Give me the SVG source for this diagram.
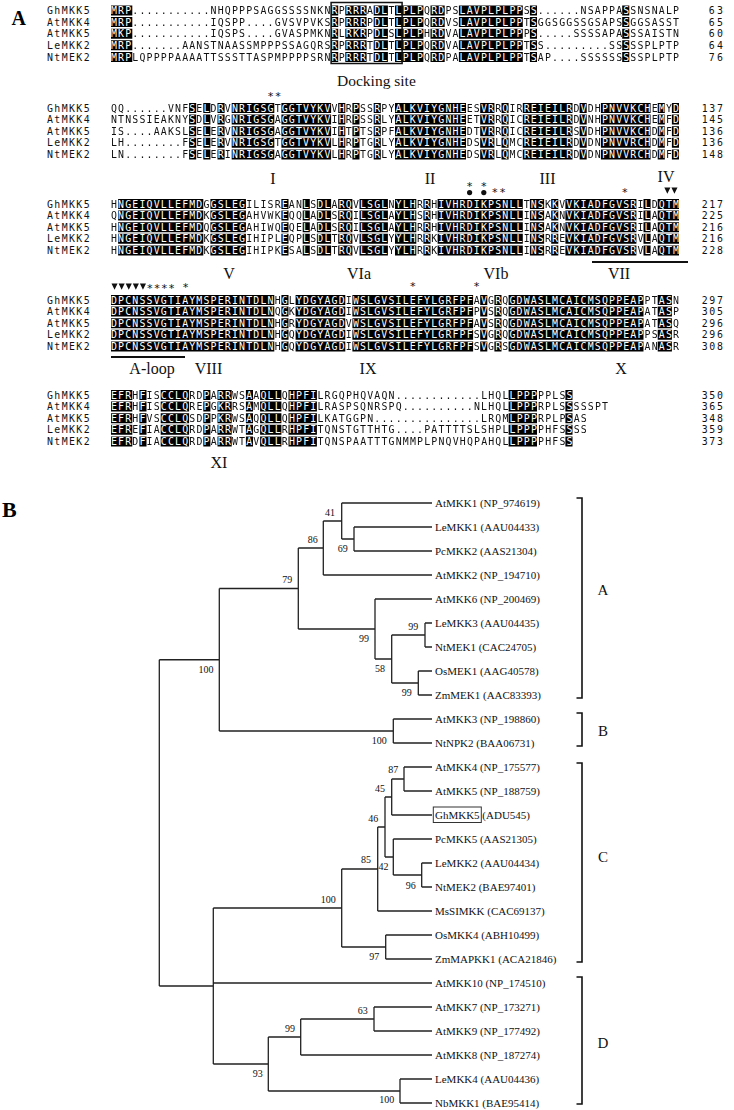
<svg xmlns="http://www.w3.org/2000/svg" width="734" height="1110" viewBox="0 0 734 1110">
<style>
.seq,.nm,.num{font-family:"DejaVu Sans Mono","Liberation Mono",monospace;font-size:9.9px}
.num{text-anchor:end}
.ast{font-family:"DejaVu Sans Mono","Liberation Mono",monospace;font-size:11px;fill:#111}
.rn{font-family:"Liberation Serif","Times New Roman",serif;font-size:16px;text-anchor:middle;fill:#111}
.lbl{font-family:"Liberation Serif","Times New Roman",serif;font-size:15.5px;fill:#111}
.pl{font-family:"Liberation Serif","Times New Roman",serif;font-weight:bold;fill:#000}
.lf{font-family:"Liberation Serif","Times New Roman",serif;font-size:11px;fill:#111}
.bs{font-family:"Liberation Serif","Times New Roman",serif;font-size:10px;text-anchor:middle;fill:#111}
.cl{font-family:"Liberation Serif","Times New Roman",serif;font-size:15px;text-anchor:middle;fill:#111}
.ln{fill:none;stroke:#222;stroke-width:1.3}
.br{fill:none;stroke:#111;stroke-width:1.6}
</style>
<defs>
<path id="k1" d="M0 0h3v10h-3zM31 0h1v10h-1zM33 0h3v10h-3zM37 0h2v10h-2zM40 0h4v10h-4zM45 0h2v10h-2zM49 0h9v10h-9zM59 0h1v10h-1zM72 0h1v10h-1z"/>
<path id="k2" d="M11 0h1v10h-1zM13 0h1v10h-1zM15 0h1v10h-1zM17 0h6v10h-6zM24 0h7v10h-7zM32 0h1v10h-1zM34 0h1v10h-1zM37 0h1v10h-1zM40 0h10v10h-10zM52 0h2v10h-2zM55 0h1v10h-1zM58 0h7v10h-7zM66 0h1v10h-1zM69 0h7v10h-7zM77 0h1v10h-1zM79 0h1v10h-1z"/>
<path id="k3" d="M1 0h12v10h-12zM14 0h5v10h-5zM24 0h1v10h-1zM27 0h1v10h-1zM29 0h2v10h-2zM32 0h2v10h-2zM35 0h4v10h-4zM40 0h3v10h-3zM44 0h1v10h-1zM46 0h12v10h-12zM59 0h2v10h-2zM62 0h1v10h-1zM64 0h10v10h-10zM75 0h1v10h-1zM77 0h3v10h-3z"/>
<path id="k4" d="M0 0h23v10h-23zM24 0h1v10h-1zM26 0h7v10h-7zM34 0h17v10h-17zM52 0h1v10h-1zM54 0h1v10h-1zM56 0h19v10h-19zM77 0h2v10h-2z"/>
<path id="k5" d="M0 0h3v10h-3zM4 0h1v10h-1zM7 0h4v10h-4zM13 0h1v10h-1zM15 0h2v10h-2zM19 0h1v10h-1zM21 0h3v10h-3zM25 0h4v10h-4zM56 0h4v10h-4zM64 0h1v10h-1z"/>
<g id="r1">
<use href="#k1" transform="translate(111 5.5) scale(7.1 1)"/>
<use href="#k1" transform="translate(111 17.1) scale(7.1 1)"/>
<use href="#k1" transform="translate(111 28.7) scale(7.1 1)"/>
<use href="#k1" transform="translate(111 40.3) scale(7.1 1)"/>
<use href="#k1" transform="translate(111 51.9) scale(7.1 1)"/>
</g>
<g id="r2">
<use href="#k2" transform="translate(111 103) scale(7.1 1)"/>
<use href="#k2" transform="translate(111 114.6) scale(7.1 1)"/>
<use href="#k2" transform="translate(111 126.2) scale(7.1 1)"/>
<use href="#k2" transform="translate(111 137.8) scale(7.1 1)"/>
<use href="#k2" transform="translate(111 149.4) scale(7.1 1)"/>
</g>
<g id="r3">
<use href="#k3" transform="translate(111 199) scale(7.1 1)"/>
<use href="#k3" transform="translate(111 210.6) scale(7.1 1)"/>
<use href="#k3" transform="translate(111 222.2) scale(7.1 1)"/>
<use href="#k3" transform="translate(111 233.8) scale(7.1 1)"/>
<use href="#k3" transform="translate(111 245.4) scale(7.1 1)"/>
</g>
<g id="r4">
<use href="#k4" transform="translate(111 295) scale(7.1 1)"/>
<use href="#k4" transform="translate(111 306.6) scale(7.1 1)"/>
<use href="#k4" transform="translate(111 318.2) scale(7.1 1)"/>
<use href="#k4" transform="translate(111 329.8) scale(7.1 1)"/>
<use href="#k4" transform="translate(111 341.4) scale(7.1 1)"/>
</g>
<g id="r5">
<use href="#k5" transform="translate(111 390) scale(7.1 1)"/>
<use href="#k5" transform="translate(111 401.6) scale(7.1 1)"/>
<use href="#k5" transform="translate(111 413.2) scale(7.1 1)"/>
<use href="#k5" transform="translate(111 424.8) scale(7.1 1)"/>
<use href="#k5" transform="translate(111 436.4) scale(7.1 1)"/>
</g>
<clipPath id="c1">
<use href="#k1" transform="translate(111 5.5) scale(7.1 1)"/>
<use href="#k1" transform="translate(111 17.1) scale(7.1 1)"/>
<use href="#k1" transform="translate(111 28.7) scale(7.1 1)"/>
<use href="#k1" transform="translate(111 40.3) scale(7.1 1)"/>
<use href="#k1" transform="translate(111 51.9) scale(7.1 1)"/>
</clipPath>
<clipPath id="c2">
<use href="#k2" transform="translate(111 103) scale(7.1 1)"/>
<use href="#k2" transform="translate(111 114.6) scale(7.1 1)"/>
<use href="#k2" transform="translate(111 126.2) scale(7.1 1)"/>
<use href="#k2" transform="translate(111 137.8) scale(7.1 1)"/>
<use href="#k2" transform="translate(111 149.4) scale(7.1 1)"/>
</clipPath>
<clipPath id="c3">
<use href="#k3" transform="translate(111 199) scale(7.1 1)"/>
<use href="#k3" transform="translate(111 210.6) scale(7.1 1)"/>
<use href="#k3" transform="translate(111 222.2) scale(7.1 1)"/>
<use href="#k3" transform="translate(111 233.8) scale(7.1 1)"/>
<use href="#k3" transform="translate(111 245.4) scale(7.1 1)"/>
</clipPath>
<clipPath id="c4">
<use href="#k4" transform="translate(111 295) scale(7.1 1)"/>
<use href="#k4" transform="translate(111 306.6) scale(7.1 1)"/>
<use href="#k4" transform="translate(111 318.2) scale(7.1 1)"/>
<use href="#k4" transform="translate(111 329.8) scale(7.1 1)"/>
<use href="#k4" transform="translate(111 341.4) scale(7.1 1)"/>
</clipPath>
<clipPath id="c5">
<use href="#k5" transform="translate(111 390) scale(7.1 1)"/>
<use href="#k5" transform="translate(111 401.6) scale(7.1 1)"/>
<use href="#k5" transform="translate(111 413.2) scale(7.1 1)"/>
<use href="#k5" transform="translate(111 424.8) scale(7.1 1)"/>
<use href="#k5" transform="translate(111 436.4) scale(7.1 1)"/>
</clipPath>
<mask id="m1" maskUnits="userSpaceOnUse" x="0" y="0" width="734" height="1110"><rect width="734" height="1110" fill="#fff"/><use href="#r1" fill="#000"/></mask>
<mask id="m2" maskUnits="userSpaceOnUse" x="0" y="0" width="734" height="1110"><rect width="734" height="1110" fill="#fff"/><use href="#r2" fill="#000"/></mask>
<mask id="m3" maskUnits="userSpaceOnUse" x="0" y="0" width="734" height="1110"><rect width="734" height="1110" fill="#fff"/><use href="#r3" fill="#000"/></mask>
<mask id="m4" maskUnits="userSpaceOnUse" x="0" y="0" width="734" height="1110"><rect width="734" height="1110" fill="#fff"/><use href="#r4" fill="#000"/></mask>
<mask id="m5" maskUnits="userSpaceOnUse" x="0" y="0" width="734" height="1110"><rect width="734" height="1110" fill="#fff"/><use href="#r5" fill="#000"/></mask>
</defs>
<rect width="734" height="1110" fill="#fff"/>

<!-- Panel A -->
<text class="pl" x="11.5" y="25" font-size="20">A</text>

<g id="block1">
<use href="#r1" fill="#000"/>
<g fill="#111" mask="url(#m1)"><g id="s1">
<text class="seq" x="111" y="14.1" textLength="568" lengthAdjust="spacing">MRP...........NHQPPPSAGGSSSSNKNRPRRRADLTLPLPQRDPSLAVPLPLPPSS......NSAPPASSNSNALP</text>
<text class="seq" x="111" y="25.7" textLength="568" lengthAdjust="spacing">MRP...........IQSPP....GVSVPVKSRPRRRPDLTLPLPQRDVSLAVPLPLPPTSGGSGGSSGSAPSSGGSASST</text>
<text class="seq" x="111" y="37.3" textLength="568" lengthAdjust="spacing">MKP...........IQSPS....GVASPMKNRLRKRPDLSLPLPHRDVALAVPLPLPPPS.....SSSSAPASSSAISTN</text>
<text class="seq" x="111" y="48.9" textLength="568" lengthAdjust="spacing">MRP.......AANSTNAASSMPPPSSAGQRSRPRRRTDLTLPLPQRDVALAVPLPLPPTSS.........SSSSSPLPTP</text>
<text class="seq" x="111" y="60.5" textLength="568" lengthAdjust="spacing">MRPLQPPPPAAAATTSSSTTASPMPPPPSRNRPRRRTDLTLPLPQRDPALAVPLPLPPTSAP....SSSSSSSSSPLPTP</text>
</g></g>
<use href="#s1" fill="#fff" clip-path="url(#c1)"/>
<g fill="#111">
<text class="nm" x="47" y="14.1" textLength="42.6" lengthAdjust="spacing">GhMKK5</text><text class="num" x="723" y="14.1" textLength="14.2" lengthAdjust="spacing">63</text>
<text class="nm" x="47" y="25.7" textLength="42.6" lengthAdjust="spacing">AtMKK4</text><text class="num" x="723" y="25.7" textLength="14.2" lengthAdjust="spacing">65</text>
<text class="nm" x="47" y="37.3" textLength="42.6" lengthAdjust="spacing">AtMKK5</text><text class="num" x="723" y="37.3" textLength="14.2" lengthAdjust="spacing">60</text>
<text class="nm" x="47" y="48.9" textLength="42.6" lengthAdjust="spacing">LeMKK2</text><text class="num" x="723" y="48.9" textLength="14.2" lengthAdjust="spacing">64</text>
<text class="nm" x="47" y="60.5" textLength="42.6" lengthAdjust="spacing">NtMEK2</text><text class="num" x="723" y="60.5" textLength="14.2" lengthAdjust="spacing">76</text>
</g>
<rect x="331.1" y="2.5" width="71" height="61" fill="none" stroke="#111" stroke-width="1.5"/>
<text class="lbl" x="337" y="86">Docking site</text>
</g>

<g id="block2">
<text class="ast" x="267.2" y="99.5" textLength="14.2" lengthAdjust="spacing">**</text>
<use href="#r2" fill="#000"/>
<g fill="#111" mask="url(#m2)"><g id="s2">
<text class="seq" x="111" y="111.6" textLength="568" lengthAdjust="spacing">QQ......VNFSELDRVNRIGSGTGGTVYKVVHRPSSRPYALKVIYGNHEESVRRQIRREIEILRDVDHPNVVKCHEMYD</text>
<text class="seq" x="111" y="123.2" textLength="568" lengthAdjust="spacing">NTNSSIEAKNYSDLVRGNRIGSGAGGTVYKVIHRPSSRLYALKVIYGNHEETVRRQICREIEILRDVNHPNVVKCHEMFD</text>
<text class="seq" x="111" y="134.8" textLength="568" lengthAdjust="spacing">IS....AAKSLSELERVNRIGSGAGGTVYKVIHTPTSRPFALKVIYGNHEDTVRRQICREIEILRSVDHPNVVKCHDMFD</text>
<text class="seq" x="111" y="146.4" textLength="568" lengthAdjust="spacing">LH........FSELERVNRIGSGTGGTVYKVLHRPTGRLYALKVIYGNHEDSVRLQMCREIEILRDVDNPNVVRCHDMFD</text>
<text class="seq" x="111" y="158" textLength="568" lengthAdjust="spacing">LN........FSELERINRIGSGAGGTVYKVLHRPTGRLYALKVIYGNHEDSVRLQMCREIEILRDVDNPNVVRCHDMFD</text>
</g></g>
<use href="#s2" fill="#fff" clip-path="url(#c2)"/>
<g fill="#111">
<text class="nm" x="47" y="111.6" textLength="42.6" lengthAdjust="spacing">GhMKK5</text><text class="num" x="723" y="111.6" textLength="21.3" lengthAdjust="spacing">137</text>
<text class="nm" x="47" y="123.2" textLength="42.6" lengthAdjust="spacing">AtMKK4</text><text class="num" x="723" y="123.2" textLength="21.3" lengthAdjust="spacing">145</text>
<text class="nm" x="47" y="134.8" textLength="42.6" lengthAdjust="spacing">AtMKK5</text><text class="num" x="723" y="134.8" textLength="21.3" lengthAdjust="spacing">136</text>
<text class="nm" x="47" y="146.4" textLength="42.6" lengthAdjust="spacing">LeMKK2</text><text class="num" x="723" y="146.4" textLength="21.3" lengthAdjust="spacing">136</text>
<text class="nm" x="47" y="158" textLength="42.6" lengthAdjust="spacing">NtMEK2</text><text class="num" x="723" y="158" textLength="21.3" lengthAdjust="spacing">148</text>
</g>
<text class="rn" x="273" y="183.5">I</text>
<text class="rn" x="430" y="183.5">II</text>
<text class="rn" x="547.5" y="183.5">III</text>
<text class="rn" x="666" y="182">IV</text>
</g>

<g id="block3">
<text class="ast" x="466.2" y="190">*</text>
<text class="ast" x="480.4" y="190">*</text>
<circle cx="469.6" cy="192.6" r="2.6" fill="#111"/>
<circle cx="483.8" cy="192.6" r="2.6" fill="#111"/>
<text class="ast" x="491.6" y="195.5" textLength="14.2" lengthAdjust="spacing">**</text>
<text class="ast" x="621.4" y="195.5">*</text>
<path d="M664.3 187.5h6.1l-3.05 6.2zM671.4 187.5h6.1l-3.05 6.2z" fill="#111"/>
<use href="#r3" fill="#000"/>
<g fill="#111" mask="url(#m3)"><g id="s3">
<text class="seq" x="111" y="207.6" textLength="568" lengthAdjust="spacing">HNGEIQVLLEFMDGGSLEGILISREANLSDLARQVLSGLNYLHRRHIVHRDIKPSNLLTNSKKVVKIADFGVSRILDQTM</text>
<text class="seq" x="111" y="219.2" textLength="568" lengthAdjust="spacing">QNGEIQVLLEFMDKGSLEGAHVWKEQQLADLSRQILSGLAYLHSRHIVHRDIKPSNLLINSAKNVKIADFGVSRILAQTM</text>
<text class="seq" x="111" y="230.8" textLength="568" lengthAdjust="spacing">HNGEIQVLLEFMDQGSLEGAHIWQEQELADLSRQILSGLAYLHRRHIVHRDIKPSNLLINSAKNVKIADFGVSRILAQTM</text>
<text class="seq" x="111" y="242.4" textLength="568" lengthAdjust="spacing">HNGEIQVLLEFMDKGSLEGIHIPLEQPLSDLTRQVLSGLYYLHRRKIVHRDIKPSNLLINSRREVKIADFGVSRVLAQTM</text>
<text class="seq" x="111" y="254" textLength="568" lengthAdjust="spacing">HNGEIQVLLEFMDKGSLEGIHIPKESALSDLTRQVLSGLYYLHRRKIVHRDIKPSNLLINSRREVKIADFGVSRVLAQTM</text>
</g></g>
<use href="#s3" fill="#fff" clip-path="url(#c3)"/>
<g fill="#111">
<text class="nm" x="47" y="207.6" textLength="42.6" lengthAdjust="spacing">GhMKK5</text><text class="num" x="723" y="207.6" textLength="21.3" lengthAdjust="spacing">217</text>
<text class="nm" x="47" y="219.2" textLength="42.6" lengthAdjust="spacing">AtMKK4</text><text class="num" x="723" y="219.2" textLength="21.3" lengthAdjust="spacing">225</text>
<text class="nm" x="47" y="230.8" textLength="42.6" lengthAdjust="spacing">AtMKK5</text><text class="num" x="723" y="230.8" textLength="21.3" lengthAdjust="spacing">216</text>
<text class="nm" x="47" y="242.4" textLength="42.6" lengthAdjust="spacing">LeMKK2</text><text class="num" x="723" y="242.4" textLength="21.3" lengthAdjust="spacing">216</text>
<text class="nm" x="47" y="254" textLength="42.6" lengthAdjust="spacing">NtMEK2</text><text class="num" x="723" y="254" textLength="21.3" lengthAdjust="spacing">228</text>
</g>
<line x1="592" y1="262" x2="688" y2="262" stroke="#111" stroke-width="2"/>
<text class="rn" x="229" y="278.5">V</text>
<text class="rn" x="359" y="278.5">VIa</text>
<text class="rn" x="496" y="278.5">VIb</text>
<text class="rn" x="619" y="278.5">VII</text>
</g>

<g id="block4">
<path d="M111.5 283.5h6.1l-3.05 6.2zM118.6 283.5h6.1l-3.05 6.2zM125.7 283.5h6.1l-3.05 6.2zM132.8 283.5h6.1l-3.05 6.2zM139.9 283.5h6.1l-3.05 6.2z" fill="#111"/>
<text class="ast" x="146.5" y="291.5" textLength="28.4" lengthAdjust="spacing">****</text>
<text class="ast" x="182.2" y="291">*</text>
<text class="ast" x="409.4" y="290">*</text>
<text class="ast" x="473.3" y="290">*</text>
<use href="#r4" fill="#000"/>
<g fill="#111" mask="url(#m4)"><g id="s4">
<text class="seq" x="111" y="303.6" textLength="568" lengthAdjust="spacing">DPCNSSVGTIAYMSPERINTDLNHGLYDGYAGDIWSLGVSILEFYLGRFPFAVGRQGDWASLMCAICMSQPPEAPPTASN</text>
<text class="seq" x="111" y="315.2" textLength="568" lengthAdjust="spacing">DPCNSSVGTIAYMSPERINTDLNQGKYDGYAGDIWSLGVSILEFYLGRFPFPVSRQGDWASLMCAICMSQPPEAPATASP</text>
<text class="seq" x="111" y="326.8" textLength="568" lengthAdjust="spacing">DPCNSSVGTIAYMSPERINTDLNHGRYDGYAGDVWSLGVSILEFYLGRFPFAVSRQGDWASLMCAICMSQPPEAPATASQ</text>
<text class="seq" x="111" y="338.4" textLength="568" lengthAdjust="spacing">DPCNSSVGTIAYMSPERINTDLNHGQYDGYAGDIWSLGVSILEFYLGRFPFSVGRQGDWASLMCAICMSQPPEAPPSASR</text>
<text class="seq" x="111" y="350" textLength="568" lengthAdjust="spacing">DPCNSSVGTIAYMSPERINTDLNHGQYDGYAGDIWSLGVSILEFYLGRFPFSVGRSGDWASLMCAICMSQPPEAPANASR</text>
</g></g>
<use href="#s4" fill="#fff" clip-path="url(#c4)"/>
<g fill="#111">
<text class="nm" x="47" y="303.6" textLength="42.6" lengthAdjust="spacing">GhMKK5</text><text class="num" x="723" y="303.6" textLength="21.3" lengthAdjust="spacing">297</text>
<text class="nm" x="47" y="315.2" textLength="42.6" lengthAdjust="spacing">AtMKK4</text><text class="num" x="723" y="315.2" textLength="21.3" lengthAdjust="spacing">305</text>
<text class="nm" x="47" y="326.8" textLength="42.6" lengthAdjust="spacing">AtMKK5</text><text class="num" x="723" y="326.8" textLength="21.3" lengthAdjust="spacing">296</text>
<text class="nm" x="47" y="338.4" textLength="42.6" lengthAdjust="spacing">LeMKK2</text><text class="num" x="723" y="338.4" textLength="21.3" lengthAdjust="spacing">296</text>
<text class="nm" x="47" y="350" textLength="42.6" lengthAdjust="spacing">NtMEK2</text><text class="num" x="723" y="350" textLength="21.3" lengthAdjust="spacing">308</text>
</g>
<line x1="111" y1="357" x2="185" y2="357" stroke="#111" stroke-width="2"/>
<text class="rn" x="152" y="373.5">A-loop</text>
<text class="rn" x="208.5" y="373.5">VIII</text>
<text class="rn" x="368" y="373.5">IX</text>
<text class="rn" x="621" y="373.5">X</text>
</g>

<g id="block5">
<use href="#r5" fill="#000"/>
<g fill="#111" mask="url(#m5)"><g id="s5">
<text class="seq" x="111" y="398.6" textLength="461.5" lengthAdjust="spacing">EFRHFISCCLQRDPARRWSAAQLLQHPFILRGQPHQVAQN............LHQLLPPPPPLSS</text>
<text class="seq" x="111" y="410.2" textLength="497" lengthAdjust="spacing">EFRHFISCCLQREPGKRRSAMQLLQHPFILRASPSQNRSPQ..........NLHQLLPPPRPLSSSSSPT</text>
<text class="seq" x="111" y="421.8" textLength="475.7" lengthAdjust="spacing">EFRHFVSCCLQSDPPKRWSAQQLLQHPFILKATGGPN...............LRQMLPPPRPLPSAS</text>
<text class="seq" x="111" y="433.4" textLength="475.7" lengthAdjust="spacing">EFREFIACCLQRDPARRWTAGQLLRHPFITQNSTGTTHTG....PATTTTSLSHPLLPPPPHFSSSS</text>
<text class="seq" x="111" y="445" textLength="461.5" lengthAdjust="spacing">EFRDFIACCLQRDPARRWTAVQLLRHPFITQNSPAATTTGNMMPLPNQVHQPAHQLLPPPPHFSS</text>
</g></g>
<use href="#s5" fill="#fff" clip-path="url(#c5)"/>
<g fill="#111">
<text class="nm" x="47" y="398.6" textLength="42.6" lengthAdjust="spacing">GhMKK5</text><text class="num" x="723" y="398.6" textLength="21.3" lengthAdjust="spacing">350</text>
<text class="nm" x="47" y="410.2" textLength="42.6" lengthAdjust="spacing">AtMKK4</text><text class="num" x="723" y="410.2" textLength="21.3" lengthAdjust="spacing">365</text>
<text class="nm" x="47" y="421.8" textLength="42.6" lengthAdjust="spacing">AtMKK5</text><text class="num" x="723" y="421.8" textLength="21.3" lengthAdjust="spacing">348</text>
<text class="nm" x="47" y="433.4" textLength="42.6" lengthAdjust="spacing">LeMKK2</text><text class="num" x="723" y="433.4" textLength="21.3" lengthAdjust="spacing">359</text>
<text class="nm" x="47" y="445" textLength="42.6" lengthAdjust="spacing">NtMEK2</text><text class="num" x="723" y="445" textLength="21.3" lengthAdjust="spacing">373</text>
</g>
<text class="rn" x="219" y="467.5">XI</text>
</g>

<!-- Panel B -->
<text class="pl" x="2" y="517" font-size="22">B</text>

<g id="connectors" class="ln">
<path d="M159.3 659.75V986M159.3 659.75H219.3M159.3 986H213.3
M219.3 588.5V731M219.3 588.5H298.3M219.3 731H393.3
M298.3 548V629M298.3 548H323.3M298.3 629H375
M323.3 521V575M323.3 521H341.7M323.3 575H432
M341.7 503V539M341.7 503H432M341.7 539H354
M354 527V551M354 527H432M354 551H432
M375 599V659M375 599H432M375 659H391.7
M391.7 635V683M391.7 635H425M391.7 683H418.3
M425 623V647M425 623H432M425 647H432
M418.3 671V695M418.3 671H432M418.3 695H432
M393.3 719V743M393.3 719H432M393.3 743H432
M213.3 908V1064M213.3 908H341.7M213.3 983H432M213.3 1064H268.3
M341.7 869V947M341.7 869H377.7M341.7 947H385.7
M377.7 827V911M377.7 827H385M377.7 911H432
M385 797V857M385 797H391.7M385 857H393.3
M391.7 779V815M391.7 779H404M391.7 815H432
M404 767V791M404 767H432M404 791H432
M393.3 839V875M393.3 839H432M393.3 875H421.7
M421.7 863V887M421.7 863H432M421.7 887H432
M385.7 935V959M385.7 935H432M385.7 959H432
M268.3 1037V1091M268.3 1037H300.7M268.3 1091H400
M300.7 1019V1055M300.7 1019H374M300.7 1055H432
M374 1007V1031M374 1007H432M374 1031H432
M400 1079V1103M400 1079H432M400 1103H432"/>
</g>

<g id="bootstrap">
<text class="bs" x="330" y="515.7">41</text>
<text class="bs" x="312.7" y="542.7">86</text>
<text class="bs" x="342.7" y="552.4">69</text>
<text class="bs" x="287.3" y="583.4">79</text>
<text class="bs" x="364" y="641.7">99</text>
<text class="bs" x="380" y="671.7">58</text>
<text class="bs" x="413.3" y="630.1">99</text>
<text class="bs" x="406.7" y="696.4">99</text>
<text class="bs" x="206" y="672.7">100</text>
<text class="bs" x="379.3" y="744.1">100</text>
<text class="bs" x="393.3" y="773.4">87</text>
<text class="bs" x="380" y="791.7">45</text>
<text class="bs" x="373.3" y="821.7">46</text>
<text class="bs" x="366" y="863.4">85</text>
<text class="bs" x="383.5" y="870.1">42</text>
<text class="bs" x="410.7" y="888.9">96</text>
<text class="bs" x="328.3" y="902.7">100</text>
<text class="bs" x="374.3" y="960.1">97</text>
<text class="bs" x="362.7" y="1014.1">63</text>
<text class="bs" x="290" y="1031.7">99</text>
<text class="bs" x="257.7" y="1076.7">93</text>
<text class="bs" x="386.7" y="1103.4">100</text>
</g>

<g id="leaves">
<g id="leaf-AtMKK1"><text class="lf" x="435" y="506.8">AtMKK1 (NP_974619)</text></g>
<g id="leaf-LeMKK1"><text class="lf" x="435" y="530.8">LeMKK1 (AAU04433)</text></g>
<g id="leaf-PcMKK2"><text class="lf" x="435" y="554.8">PcMKK2 (AAS21304)</text></g>
<g id="leaf-AtMKK2"><text class="lf" x="435" y="578.8">AtMKK2 (NP_194710)</text></g>
<g id="leaf-AtMKK6"><text class="lf" x="435" y="602.8">AtMKK6 (NP_200469)</text></g>
<g id="leaf-LeMKK3"><text class="lf" x="435" y="626.8">LeMKK3 (AAU04435)</text></g>
<g id="leaf-NtMEK1"><text class="lf" x="435" y="650.8">NtMEK1 (CAC24705)</text></g>
<g id="leaf-OsMEK1"><text class="lf" x="435" y="674.8">OsMEK1 (AAG40578)</text></g>
<g id="leaf-ZmMEK1"><text class="lf" x="435" y="698.8">ZmMEK1 (AAC83393)</text></g>
<g id="leaf-AtMKK3"><text class="lf" x="435" y="722.8">AtMKK3 (NP_198860)</text></g>
<g id="leaf-NtNPK2"><text class="lf" x="435" y="746.8">NtNPK2 (BAA06731)</text></g>
<g id="leaf-AtMKK4"><text class="lf" x="435" y="770.8">AtMKK4 (NP_175577)</text></g>
<g id="leaf-AtMKK5"><text class="lf" x="435" y="794.8">AtMKK5 (NP_188759)</text></g>
<g id="leaf-GhMKK5"><rect x="433.3" y="807" width="48" height="15.5" fill="none" stroke="#333" stroke-width="1"/><text class="lf" x="435" y="818.8">GhMKK5 (ADU545)</text></g>
<g id="leaf-PcMKK5"><text class="lf" x="435" y="842.8">PcMKK5 (AAS21305)</text></g>
<g id="leaf-LeMKK2"><text class="lf" x="435" y="866.8">LeMKK2 (AAU04434)</text></g>
<g id="leaf-NtMEK2"><text class="lf" x="435" y="890.8">NtMEK2 (BAE97401)</text></g>
<g id="leaf-MsSIMKK"><text class="lf" x="435" y="914.8">MsSIMKK (CAC69137)</text></g>
<g id="leaf-OsMKK4"><text class="lf" x="435" y="938.8">OsMKK4 (ABH10499)</text></g>
<g id="leaf-ZmMAPKK1"><text class="lf" x="435" y="962.8">ZmMAPKK1 (ACA21846)</text></g>
<g id="leaf-AtMKK10"><text class="lf" x="435" y="986.8">AtMKK10 (NP_174510)</text></g>
<g id="leaf-AtMKK7"><text class="lf" x="435" y="1010.8">AtMKK7 (NP_173271)</text></g>
<g id="leaf-AtMKK9"><text class="lf" x="435" y="1034.8">AtMKK9 (NP_177492)</text></g>
<g id="leaf-AtMKK8"><text class="lf" x="435" y="1058.8">AtMKK8 (NP_187274)</text></g>
<g id="leaf-LeMKK4"><text class="lf" x="435" y="1082.8">LeMKK4 (AAU04436)</text></g>
<g id="leaf-NbMKK1"><text class="lf" x="435" y="1106.8">NbMKK1 (BAE95414)</text></g>
</g>

<g id="clades">
<g id="clade-A"><path class="br" d="M576.5 498H582V698H576.5"/><text class="cl" x="603" y="595.3">A</text></g>
<g id="clade-B"><path class="br" d="M576.5 713H582V746H576.5"/><text class="cl" x="603" y="736.3">B</text></g>
<g id="clade-C"><path class="br" d="M576.5 763H582V962H576.5"/><text class="cl" x="603" y="862.3">C</text></g>
<g id="clade-D"><path class="br" d="M576.5 977H582V1104H576.5"/><text class="cl" x="603" y="1048.3">D</text></g>
</g>
</svg>
